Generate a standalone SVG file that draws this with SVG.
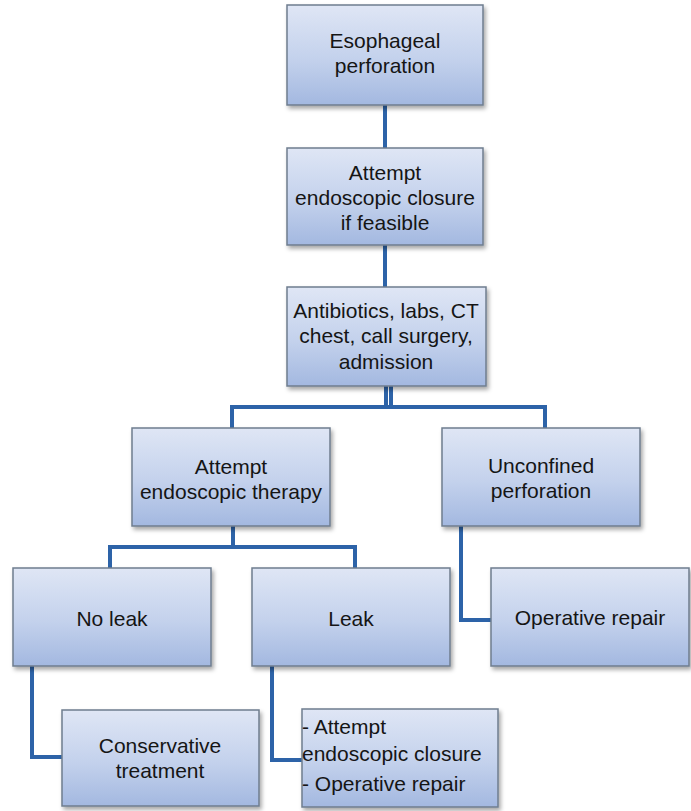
<svg xmlns="http://www.w3.org/2000/svg" width="691" height="811" viewBox="0 0 691 811">
  <defs>
    <linearGradient id="boxFill" x1="0" y1="0" x2="0" y2="1">
      <stop offset="0" stop-color="#dfe6f5"/>
      <stop offset="0.55" stop-color="#c3d1ec"/>
      <stop offset="1" stop-color="#a3b8e0"/>
    </linearGradient>
    <filter id="shadow" x="-10%" y="-10%" width="125%" height="130%">
      <feDropShadow dx="2" dy="3" stdDeviation="2" flood-color="#000" flood-opacity="0.35"/>
    </filter>
  </defs>
  <style>
    .box { fill: url(#boxFill); stroke: #6f7d8e; stroke-width: 1.5; filter: url(#shadow); }
    .lbl { font-family: "Liberation Sans", Arial, sans-serif; font-size: 21px; fill: #151515; text-anchor: middle; }
    .lft { text-anchor: start; }
    .wire { fill: none; stroke: #2d63a8; stroke-width: 4; stroke-linejoin: miter; }
  </style>
  <rect width="691" height="811" fill="#ffffff"/>

  <g id="connectors">
    <line class="wire" x1="385" y1="105" x2="385" y2="148"/>
    <line class="wire" x1="385" y1="245" x2="385" y2="287"/>
    <line class="wire" x1="386" y1="386" x2="386" y2="407" stroke-width="3"/>
    <line class="wire" x1="391" y1="386" x2="391" y2="407" stroke-width="3"/>
    <polyline class="wire" points="232,428 232,407 545,407 545,428"/>
    <line class="wire" x1="233" y1="526" x2="233" y2="547" stroke-width="6"/>
    <polyline class="wire" points="110,568 110,547 355,547 355,568"/>
    <polyline class="wire" points="461,526 461,620 491,620"/>
    <polyline class="wire" points="32,666 32,757 62,757"/>
    <polyline class="wire" points="272,666 272,760 302,760"/>
  </g>

  <g id="esophageal-perforation">
    <rect class="box" x="287" y="5" width="196" height="100"/>
    <text class="lbl" x="385" y="48">Esophageal</text>
    <text class="lbl" x="385" y="73">perforation</text>
  </g>

  <g id="endoscopic-closure">
    <rect class="box" x="287" y="148" width="196" height="97"/>
    <text class="lbl" x="385" y="180">Attempt</text>
    <text class="lbl" x="385" y="205">endoscopic closure</text>
    <text class="lbl" x="385" y="230">if feasible</text>
  </g>

  <g id="antibiotics">
    <rect class="box" x="287" y="287" width="199" height="99"/>
    <text class="lbl" x="386" y="318">Antibiotics, labs, CT</text>
    <text class="lbl" x="386" y="343">chest, call surgery,</text>
    <text class="lbl" x="386" y="369">admission</text>
  </g>

  <g id="endoscopic-therapy">
    <rect class="box" x="132" y="428" width="198" height="98"/>
    <text class="lbl" x="231" y="474">Attempt</text>
    <text class="lbl" x="231" y="499">endoscopic therapy</text>
  </g>

  <g id="unconfined-perforation">
    <rect class="box" x="442" y="428" width="198" height="98"/>
    <text class="lbl" x="541" y="473">Unconfined</text>
    <text class="lbl" x="541" y="498">perforation</text>
  </g>

  <g id="no-leak">
    <rect class="box" x="13" y="568" width="198" height="98"/>
    <text class="lbl" x="112" y="626">No leak</text>
  </g>

  <g id="leak">
    <rect class="box" x="252" y="568" width="198" height="98"/>
    <text class="lbl" x="351" y="626">Leak</text>
  </g>

  <g id="operative-repair">
    <rect class="box" x="491" y="568" width="198" height="98"/>
    <text class="lbl" x="590" y="625">Operative repair</text>
  </g>

  <g id="conservative-treatment">
    <rect class="box" x="62" y="710" width="197" height="96"/>
    <text class="lbl" x="160" y="753">Conservative</text>
    <text class="lbl" x="160" y="778">treatment</text>
  </g>

  <g id="closure-or-repair">
    <rect class="box" x="302" y="709" width="196" height="98"/>
    <text class="lbl lft" x="302" y="734">- Attempt</text>
    <text class="lbl lft" x="302" y="761">endoscopic closure</text>
    <text class="lbl lft" x="302" y="791">- Operative repair</text>
  </g>
</svg>
